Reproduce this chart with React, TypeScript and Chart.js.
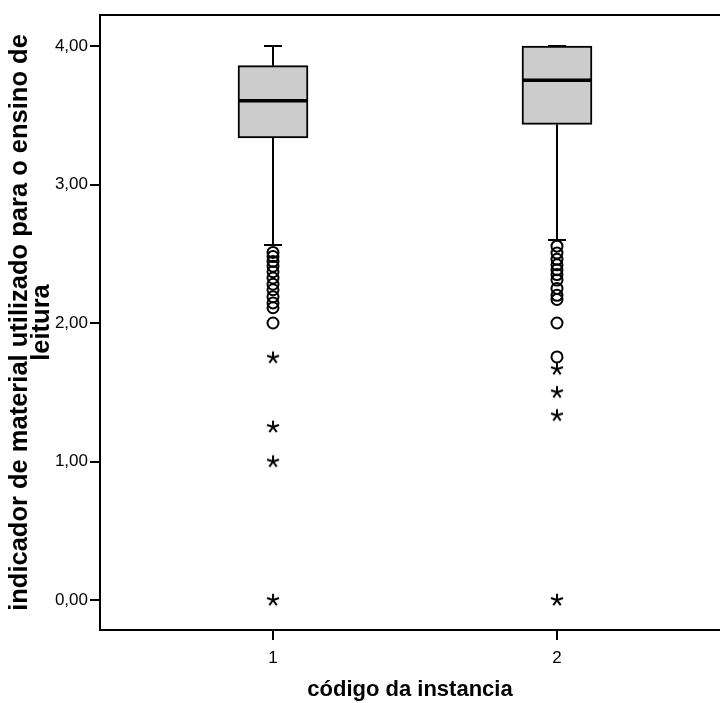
import { useEffect, useRef } from 'react';
import { Chart, registerables } from 'chart.js';

Chart.register(...registerables);

// ---- data ----
const categories = [1, 2];
const categoryLabels = ['1', '2'];
const whiskerLow = [2.563, 2.6];
const q1 = [3.336, 3.434];
const median = [3.605, 3.752];
const q3 = [3.858, 4.0];
const whiskerHigh = [4.0, 4.0];
const outliers1 = [2.51, 2.48, 2.445, 2.41, 2.37, 2.325, 2.28, 2.24, 2.19, 2.145, 2.11, 2.0];
const extremes1 = [1.75, 1.25, 1.0, 0.0];
const outliers2 = [2.555, 2.505, 2.46, 2.42, 2.385, 2.35, 2.31, 2.25, 2.2, 2.17, 2.0, 1.755];
const extremes2 = [1.667, 1.5, 1.333, 0.0];
const yTicks = [0, 1, 2, 3, 4];
const yTitle = ['indicador de material utilizado para o ensino de', 'leitura'];
const xTitle = 'código da instancia';

const FONT = "'Liberation Sans', Arial, Helvetica, sans-serif";

function makeAsterisk(): HTMLCanvasElement {
  const c = document.createElement('canvas');
  c.width = 16;
  c.height = 16;
  const g = c.getContext('2d')!;
  g.strokeStyle = '#000';
  g.lineWidth = 2;
  g.lineCap = 'butt';
  g.beginPath();
  for (let k = 0; k < 5; k++) {
    const a = (-90 + k * 72) * Math.PI / 180;
    g.moveTo(8, 8);
    g.lineTo(8 + Math.cos(a) * 6.3, 8 + Math.sin(a) * 6.3);
  }
  g.stroke();
  return c;
}

const boxPlugin = {
  id: 'boxParts',
  afterDatasetsDraw(chart: any) {
    const { ctx, scales } = chart;
    const x = scales.x;
    const y = scales.y;
    ctx.save();
    ctx.strokeStyle = '#000';
    categories.forEach((c, i) => {
      const px = x.getPixelForValue(c);
      const yHi = y.getPixelForValue(whiskerHigh[i]);
      const yLo = y.getPixelForValue(whiskerLow[i]);
      const yQ1 = y.getPixelForValue(q1[i]);
      const yQ3 = y.getPixelForValue(q3[i]);
      const yMed = y.getPixelForValue(median[i]);
      ctx.lineWidth = 2;
      ctx.beginPath();
      ctx.moveTo(px, yQ3);
      ctx.lineTo(px, yHi);
      ctx.moveTo(px, yQ1);
      ctx.lineTo(px, yLo);
      ctx.moveTo(px - 9, yHi);
      ctx.lineTo(px + 9, yHi);
      ctx.moveTo(px - 9, yLo);
      ctx.lineTo(px + 9, yLo);
      ctx.stroke();
      ctx.lineWidth = 3.5;
      ctx.beginPath();
      ctx.moveTo(px - 35, yMed);
      ctx.lineTo(px + 35, yMed);
      ctx.stroke();
    });
    ctx.restore();
  },
  afterDraw(chart: any) {
    const { ctx, chartArea } = chart;
    ctx.save();
    ctx.strokeStyle = '#000';
    ctx.lineWidth = 2;
    ctx.beginPath();
    ctx.moveTo(chartArea.left - 1, chartArea.top);
    ctx.lineTo(chartArea.right, chartArea.top);
    ctx.stroke();
    ctx.restore();
  },
};

export default function App() {
  const ref = useRef<HTMLCanvasElement | null>(null);

  useEffect(() => {
    if (!ref.current) return;
    const asterisk = makeAsterisk();
    const pts = (vals: number[], cat: number) => vals.map((v) => ({ x: cat, y: v }));
    const chart = new Chart(ref.current, {
      type: 'bar',
      data: {
        datasets: [
          {
            type: 'bar',
            data: categories.map((c, i) => ({ x: c, y: [q1[i], q3[i]] })) as any,
            backgroundColor: '#cccccc',
            borderColor: '#000',
            borderWidth: 2,
            borderSkipped: false,
            barThickness: 70,
          } as any,
          {
            type: 'scatter',
            data: [...pts(outliers1, categories[0]), ...pts(outliers2, categories[1])],
            pointStyle: 'circle',
            pointRadius: 5.5,
            borderWidth: 2,
            borderColor: '#000',
            backgroundColor: 'rgba(0,0,0,0)',
          } as any,
          {
            type: 'scatter',
            data: [...pts(extremes1, categories[0]), ...pts(extremes2, categories[1])],
            pointStyle: asterisk,
            pointRadius: 6,
            borderColor: '#000',
            backgroundColor: '#000',
          } as any,
        ],
      },
      options: {
        animation: false,
        responsive: false,
        layout: { autoPadding: false, padding: { top: 15, right: 0, left: 0, bottom: 0 } },
        plugins: { legend: { display: false }, tooltip: { enabled: false } },
        scales: {
          x: {
            type: 'linear',
            min: 0.3908,
            max: 2.574,
            offset: false,
            afterBuildTicks: (s: any) => {
              s.ticks = categories.map((v) => ({ value: v }));
            },
            afterFit: (s: any) => {
              s.height = 73;
              s.paddingLeft = 0;
              s.paddingRight = 0;
            },
            ticks: {
              callback: (v: any) => {
                const i = categories.indexOf(Number(v));
                return i >= 0 ? categoryLabels[i] : '';
              },
              color: '#000',
              font: { family: FONT, size: 17 },
              padding: 8,
              maxRotation: 0,
            },
            grid: { offset: false, drawOnChartArea: false, drawTicks: true, tickLength: 10, lineWidth: 2, color: '#000' },
            border: { display: true, color: '#000', width: 2 },
            title: {
              display: true,
              text: xTitle,
              color: '#000',
              font: { family: FONT, size: 22, weight: 'bold', lineHeight: 1.1 },
              padding: { top: 0, bottom: 1 },
            },
          },
          y: {
            type: 'linear',
            min: -0.2166,
            max: 4.224,
            afterBuildTicks: (s: any) => {
              s.ticks = yTicks.map((v) => ({ value: v }));
            },
            afterFit: (s: any) => {
              s.width = 100;
              s.paddingTop = 0;
              s.paddingBottom = 0;
            },
            ticks: {
              callback: (v: any) => Number(v).toFixed(2).replace('.', ','),
              color: '#000',
              font: { family: FONT, size: 17 },
              padding: 2,
            },
            grid: { drawOnChartArea: false, drawTicks: true, tickLength: 10, lineWidth: 2, color: '#000' },
            border: { display: true, color: '#000', width: 2 },
            title: {
              display: true,
              text: yTitle,
              color: '#000',
              font: { family: FONT, size: 25.5, weight: 'bold', lineHeight: 0.86 },
              padding: { top: 9, bottom: 0 },
            },
          },
        },
      },
      plugins: [boxPlugin],
    } as any);
    return () => chart.destroy();
  }, []);

  return (
    <div style={{ position: 'absolute', left: 0, top: 0, width: 720, height: 703, background: '#fff' }}>
      <canvas ref={ref} width={720} height={703} style={{ display: 'block' }} />
    </div>
  );
}
